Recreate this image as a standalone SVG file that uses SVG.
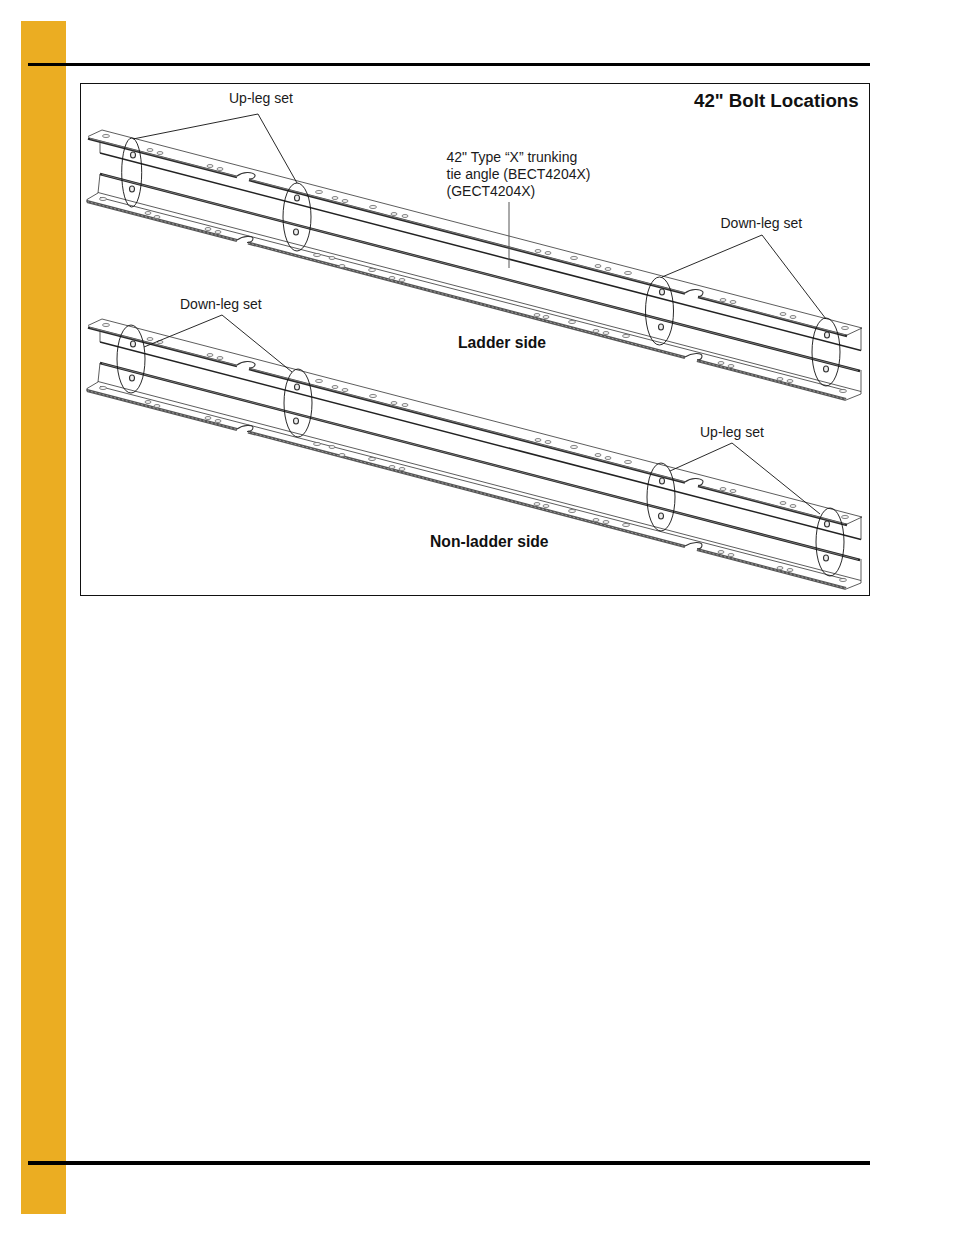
<svg xmlns="http://www.w3.org/2000/svg" xmlns:xlink="http://www.w3.org/1999/xlink" width="954" height="1235" viewBox="0 0 954 1235">
<style>
.t{font-family:"Liberation Sans",Arial,sans-serif;font-size:14px;fill:#1a1a1a}
.b{font-family:"Liberation Sans",Arial,sans-serif;font-size:15.700px;font-weight:700;fill:#111}
.thin{fill:none;stroke:#333;stroke-width:.8}
.notch{fill:none;stroke:#333;stroke-width:1.100}
.thick{fill:none;stroke:#222;stroke-width:1.500}
.edge{fill:none;stroke:#2a2a2a;stroke-width:2.600}
.edge2{fill:none;stroke:#222;stroke-width:2.500}
.mid{fill:none;stroke:#aaa;stroke-width:.6}
.band{fill:none;stroke:#555;stroke-width:3}
.hatch{fill:none;stroke:#999;stroke-width:1;stroke-dasharray:2 2}
.h{fill:#f4f4f4;stroke:#666;stroke-width:.8}
.w{fill:#eee;stroke:#333;stroke-width:1.100}
.e{fill:none;stroke:#111;stroke-width:.9}
.l{fill:none;stroke:#111;stroke-width:.9}
</style>
<defs>
<g id="angle">
<path class="thin" d="M88 136.500L102 130L862 328L846 335.500"/>
<path class="edge" d="M88 138.500L237 177"/>
<path class="edge" d="M249 180L685 293.500"/>
<path class="edge" d="M698 297L847 336"/>
<path class="mid" d="M90 138.500L237 176.500M249 179.500L685 293M698 296.500L845 335"/>
<path class="notch" d="M237 176C243 171.500 252 171.500 255 175C255.500 178 252 179 249 179"/>
<path class="notch" d="M685 293C691 288.500 700 288.500 703 292C703 295.500 701 296.500 698 296.500"/>
<path class="thin" d="M100 142V153M861 328V350.500"/>
<path class="thick" d="M100 153L861 350.500"/>
<path class="edge2" d="M100 174L860 371"/>
<path class="mid" d="M102 174.500L858 370.500"/>
<path class="thin" d="M100 174L98 193L87 199.500M861 370V394L846 400"/>
<path class="thin" d="M98 192.500L861 391.500M100 197.500L846 390.500"/>
<path class="band" d="M87 201.500L237 240.500"/>
<path class="band" d="M248 243L685 357.500"/>
<path class="band" d="M697 360.500L846 399.500"/>
<path class="hatch" d="M87 201.500L237 240.500M248 243L685 357.500M697 360.500L846 399.500"/>
<path class="notch" d="M87 199.500V202M237 240C243 235.500 253 235.500 253 238.500C253 241 250 242.500 247 242.500M685 357C692 352.500 702 352.500 702 356C702 358.500 700 360 697 360"/>
<g class="h">
<ellipse cx="106" cy="136" rx="3.500" ry="1.600"/><ellipse cx="150" cy="150" rx="3" ry="1.500"/><ellipse cx="160" cy="153" rx="3" ry="1.500"/><ellipse cx="210" cy="166" rx="3" ry="1.500"/><ellipse cx="220" cy="169" rx="3" ry="1.500"/><ellipse cx="319" cy="192" rx="3.500" ry="1.600"/><ellipse cx="335" cy="198" rx="3" ry="1.500"/><ellipse cx="345" cy="201" rx="3" ry="1.500"/><ellipse cx="373" cy="207" rx="3.500" ry="1.600"/><ellipse cx="394" cy="214" rx="3" ry="1.500"/><ellipse cx="405" cy="216" rx="3" ry="1.500"/><ellipse cx="538" cy="251" rx="3" ry="1.500"/><ellipse cx="548" cy="253" rx="3" ry="1.500"/><ellipse cx="574" cy="258" rx="3.500" ry="1.600"/><ellipse cx="598" cy="266" rx="3" ry="1.500"/><ellipse cx="608" cy="269" rx="3" ry="1.500"/><ellipse cx="628" cy="273" rx="3.500" ry="1.600"/><ellipse cx="723" cy="300" rx="3" ry="1.500"/><ellipse cx="733" cy="302" rx="3" ry="1.500"/><ellipse cx="783" cy="314" rx="3" ry="1.500"/><ellipse cx="793" cy="317" rx="3" ry="1.500"/><ellipse cx="845" cy="328" rx="3.500" ry="1.600"/>
<ellipse cx="103" cy="199" rx="3.500" ry="1.600"/><ellipse cx="148" cy="213" rx="3" ry="1.500"/><ellipse cx="157" cy="217" rx="3" ry="1.500"/><ellipse cx="208" cy="229" rx="3" ry="1.500"/><ellipse cx="218" cy="232" rx="3" ry="1.500"/><ellipse cx="317" cy="255" rx="3.500" ry="1.600"/><ellipse cx="332" cy="258" rx="3" ry="1.500"/><ellipse cx="342" cy="266" rx="3" ry="1.500"/><ellipse cx="372" cy="270" rx="3.500" ry="1.600"/><ellipse cx="392" cy="278" rx="3" ry="1.500"/><ellipse cx="402" cy="280" rx="3" ry="1.500"/><ellipse cx="537" cy="315" rx="3" ry="1.500"/><ellipse cx="546" cy="317" rx="3" ry="1.500"/><ellipse cx="572" cy="322" rx="3.500" ry="1.600"/><ellipse cx="596" cy="331" rx="3" ry="1.500"/><ellipse cx="606" cy="333" rx="3" ry="1.500"/><ellipse cx="626" cy="336" rx="3.500" ry="1.600"/><ellipse cx="721" cy="363" rx="3" ry="1.500"/><ellipse cx="731" cy="366" rx="3" ry="1.500"/><ellipse cx="780" cy="379" rx="3" ry="1.500"/><ellipse cx="790" cy="381" rx="3" ry="1.500"/><ellipse cx="843" cy="391" rx="3.500" ry="1.600"/>
</g>
<g class="w">
<ellipse cx="133" cy="155" rx="2.500" ry="3"/><ellipse cx="132" cy="189" rx="2.500" ry="3"/><ellipse cx="297" cy="198" rx="2.500" ry="3"/><ellipse cx="296" cy="232" rx="2.500" ry="3"/><ellipse cx="662" cy="292" rx="2.500" ry="3"/><ellipse cx="661" cy="327" rx="2.500" ry="3"/><ellipse cx="827" cy="335" rx="2.500" ry="3"/><ellipse cx="826" cy="369" rx="2.500" ry="3"/>
</g>
</g>
</defs>
<rect id="side-tab" x="21" y="21" width="45" height="1193" fill="#ebad22"/>
<rect id="rule-top" x="28" y="63" width="842" height="3" fill="#000"/>
<rect id="rule-bottom" x="28" y="1161" width="842" height="4" fill="#000"/>
<rect id="frame" x="80.500" y="83.500" width="789" height="512" fill="#fff" stroke="#111" stroke-width="1"/>
<g id="ladder-side-angles"><use href="#angle" xlink:href="#angle"/></g>
<g id="non-ladder-side-angles"><use href="#angle" xlink:href="#angle" transform="translate(0 189)"/></g>
<g id="set-marks">
<ellipse class="e" cx="131.700" cy="172.500" rx="10" ry="34.500"/>
<ellipse class="e" cx="297" cy="217" rx="14" ry="34"/>
<ellipse class="e" cx="659.500" cy="311" rx="14" ry="34"/>
<ellipse class="e" cx="826" cy="352" rx="14" ry="34"/>
<ellipse class="e" cx="131" cy="359" rx="14" ry="34"/>
<ellipse class="e" cx="298" cy="403" rx="14" ry="34"/>
<ellipse class="e" cx="661" cy="497" rx="14" ry="34"/>
<ellipse class="e" cx="830" cy="542" rx="14" ry="34"/>
</g>
<g id="connectors">
<path class="l" d="M133 139L258 114L297 183"/>
<path class="l" d="M662 277L762 235L826 319"/>
<path class="l" d="M144 347L222 315L292 372"/>
<path class="l" d="M670 471L732 443L820 514"/>
<path d="M509 202V268" fill="none" stroke="#555" stroke-width="1"/>
</g>
<g id="labels">
<text id="title" x="694" y="107" font-family="Liberation Sans,Arial,sans-serif" font-size="18.700" font-weight="700" fill="#111">42" Bolt Locations</text>
<text id="up-leg-1" class="t" x="229" y="103">Up-leg set</text>
<text id="part-1" class="t" x="446.500" y="162">42" Type “X” trunking</text>
<text id="part-2" class="t" x="446.500" y="179">tie angle (BECT4204X)</text>
<text id="part-3" class="t" x="446.500" y="196">(GECT4204X)</text>
<text id="down-leg-1" class="t" x="720.500" y="228">Down-leg set</text>
<text id="down-leg-2" class="t" x="180" y="308.500">Down-leg set</text>
<text id="up-leg-2" class="t" x="700" y="437">Up-leg set</text>
<text id="ladder" class="b" x="458" y="348">Ladder side</text>
<text id="non-ladder" class="b" x="430" y="546.500">Non-ladder side</text>
</g>
</svg>
